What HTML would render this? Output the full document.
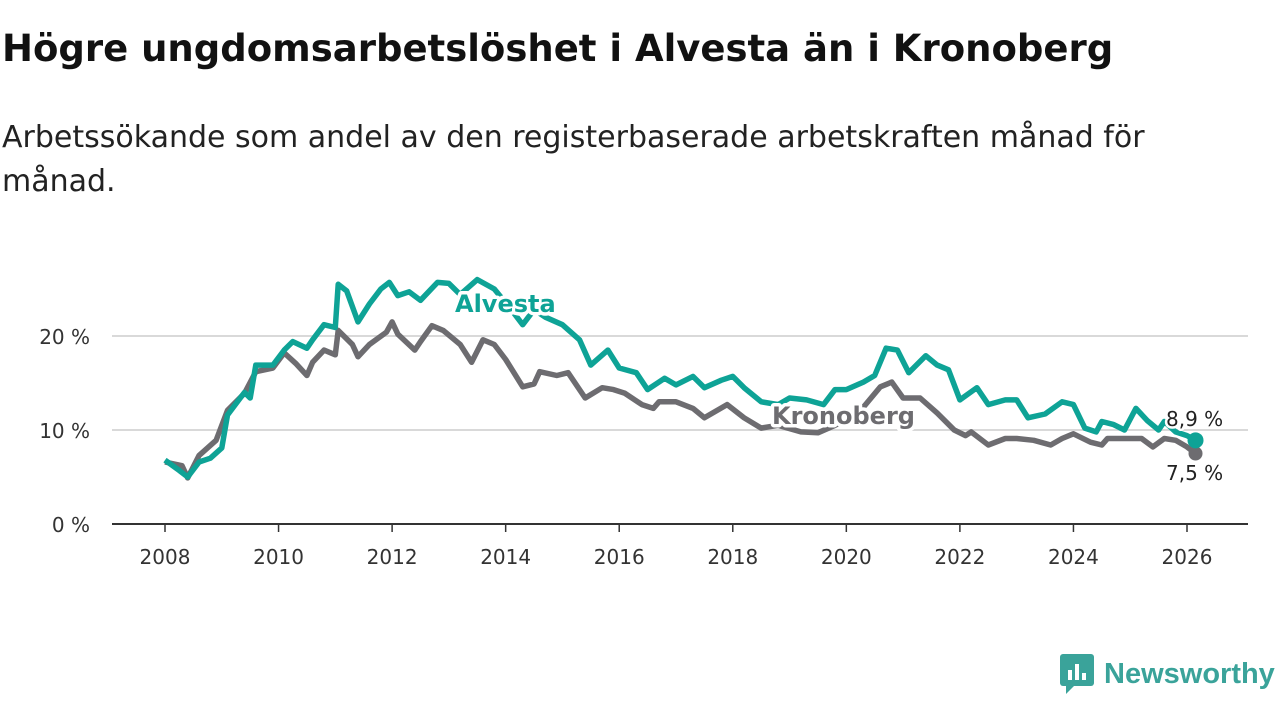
<!DOCTYPE html>
<html><head><meta charset="utf-8"><style>
body{margin:0;width:1280px;height:720px;background:#fff;font-family:"DejaVu Sans",sans-serif;overflow:hidden;position:relative}
h1{position:absolute;left:2px;top:27px;margin:0;font-size:37px;font-weight:bold;color:#111;letter-spacing:0px;white-space:nowrap}
p.sub{position:absolute;left:2px;top:116px;margin:0;font-size:30px;line-height:44px;color:#222;width:1180px;letter-spacing:0px}
svg{position:absolute;left:0;top:0}
.logo{position:absolute;left:1060px;top:654px;display:flex;align-items:center;color:#3aa39a;font-size:29px;font-weight:bold;font-family:"Liberation Sans",sans-serif}
</style></head><body>
<h1>Högre ungdomsarbetslöshet i Alvesta än i Kronoberg</h1>
<p class="sub">Arbetssökande som andel av den registerbaserade arbetskraften månad för månad.</p>
<svg id="chart" width="1280" height="720"></svg>
<div class="logo">
<svg width="36" height="40" style="position:static;margin-right:8px"><rect x="0" y="0" width="34" height="32" rx="3" fill="#3aa39a"/><polygon points="6,32 14,32 6,40" fill="#3aa39a"/><rect x="8" y="16" width="4" height="10" fill="#fff"/><rect x="15" y="10" width="4" height="16" fill="#fff"/><rect x="22" y="19" width="4" height="7" fill="#fff"/></svg>Newsworthy</div>
<script>
const alvT=[2008.0,2008.25,2008.4,2008.6,2008.8,2009.0,2009.1,2009.4,2009.5,2009.6,2009.9,2010.1,2010.25,2010.5,2010.6,2010.8,2011.0,2011.05,2011.2,2011.4,2011.6,2011.8,2011.95,2012.1,2012.3,2012.5,2012.8,2013.0,2013.2,2013.5,2013.8,2014.1,2014.3,2014.5,2014.7,2015.0,2015.3,2015.5,2015.8,2016.0,2016.3,2016.5,2016.8,2017.0,2017.3,2017.5,2017.8,2018.0,2018.2,2018.5,2018.8,2019.0,2019.3,2019.6,2019.8,2020.0,2020.3,2020.5,2020.7,2020.9,2021.1,2021.4,2021.6,2021.8,2022.0,2022.3,2022.5,2022.8,2023.0,2023.2,2023.5,2023.8,2024.0,2024.2,2024.4,2024.5,2024.7,2024.9,2025.1,2025.3,2025.5,2025.6,2025.8,2026.0,2026.15];
const alvV=[6.8,5.7,5.0,6.6,7.0,8.1,11.6,14.0,13.4,16.9,16.9,18.5,19.4,18.7,19.6,21.2,20.9,25.5,24.8,21.5,23.4,25.0,25.7,24.3,24.7,23.8,25.7,25.6,24.4,26.0,25.0,22.8,21.2,22.8,22.0,21.2,19.6,16.9,18.5,16.6,16.1,14.3,15.5,14.8,15.7,14.5,15.3,15.7,14.5,13.0,12.7,13.4,13.2,12.7,14.3,14.3,15.1,15.8,18.7,18.5,16.1,17.9,16.9,16.4,13.2,14.5,12.7,13.2,13.2,11.3,11.7,13.0,12.7,10.2,9.8,10.9,10.6,10.0,12.3,11.0,10.0,10.9,9.8,9.4,8.9];
const kroT=[2008.0,2008.3,2008.4,2008.6,2008.9,2009.1,2009.4,2009.6,2009.9,2010.1,2010.3,2010.5,2010.6,2010.8,2011.0,2011.05,2011.3,2011.4,2011.6,2011.9,2012.0,2012.1,2012.4,2012.5,2012.7,2012.9,2013.2,2013.4,2013.6,2013.8,2014.0,2014.3,2014.5,2014.6,2014.9,2015.1,2015.4,2015.7,2015.9,2016.1,2016.4,2016.6,2016.7,2017.0,2017.3,2017.5,2017.9,2018.2,2018.5,2018.8,2019.2,2019.5,2019.8,2020.2,2020.6,2020.8,2021.0,2021.3,2021.6,2021.9,2022.1,2022.2,2022.5,2022.8,2023.0,2023.3,2023.6,2023.8,2024.0,2024.3,2024.5,2024.6,2024.9,2025.2,2025.4,2025.6,2025.8,2026.0,2026.15];
const kroV=[6.6,6.2,4.9,7.3,8.9,12.1,13.9,16.2,16.6,18.2,17.1,15.8,17.2,18.5,18.0,20.6,19.1,17.8,19.1,20.4,21.5,20.2,18.5,19.4,21.1,20.6,19.1,17.2,19.6,19.1,17.5,14.6,14.9,16.2,15.8,16.1,13.4,14.5,14.3,13.9,12.7,12.3,13.0,13.0,12.3,11.3,12.7,11.3,10.2,10.5,9.8,9.7,10.5,11.7,14.6,15.1,13.4,13.4,11.8,10.0,9.4,9.8,8.4,9.1,9.1,8.9,8.4,9.1,9.6,8.7,8.4,9.1,9.1,9.1,8.2,9.1,8.9,8.2,7.5];
const yTicks=[0,10,20];
const yTickLabels=["0 %","10 %","20 %"];
const xTicks=[2008,2010,2012,2014,2016,2018,2020,2022,2024,2026];
const xS=t=>165+(t-2008)*(1187-165)/18;
const yS=v=>524-v*9.4;
const svg=document.getElementById('chart');
const NS='http://www.w3.org/2000/svg';
const FF='DejaVu Sans, sans-serif';
function mk(tag,attrs){const e=document.createElementNS(NS,tag);for(const k in attrs)e.setAttribute(k,attrs[k]);svg.appendChild(e);return e;}
yTicks.forEach((v,i)=>{
 if(v>0){const g=mk('line',{x1:112,x2:1248,y1:yS(v),y2:yS(v),stroke:'#d9d9d9','stroke-width':2});
 
 }
 const t=mk('text',{x:90,y:yS(v)+8,'text-anchor':'end','font-size':20,fill:'#333','font-family':FF});
 t.textContent=yTickLabels[i];
 
 
});
xTicks.forEach(y=>{
 const l=mk('line',{x1:xS(y),x2:xS(y),y1:524,y2:532,stroke:'#333','stroke-width':1.5});
 
 
 const t=mk('text',{x:xS(y),y:564,'text-anchor':'middle','font-size':20,fill:'#333','font-family':FF});
 t.textContent=y;
 
 
});
const ax=mk('line',{x1:112,x2:1248,y1:524,y2:524,stroke:'#333','stroke-width':2});


function pts(T,V){return T.map((t,i)=>xS(t).toFixed(1)+','+yS(V[i]).toFixed(1)).join(' ');}
const kl=mk('polyline',{points:pts(kroT,kroV),fill:'none',stroke:'#6d6c70','stroke-width':5.5,'stroke-linejoin':'round'});


const al=mk('polyline',{points:pts(alvT,alvV),fill:'none',stroke:'#0ea396','stroke-width':5.5,'stroke-linejoin':'round'});


const n=kroT.length-1,m=alvT.length-1;
const kd=mk('circle',{cx:xS(kroT[n]),cy:yS(kroV[n]),r:7,fill:'#6d6c70'});


const ad=mk('circle',{cx:xS(alvT[m]),cy:yS(alvV[m]),r:8,fill:'#0ea396'});


function lab(txt,x,y,col,name,size,bold){
 const t=mk('text',{x:x,y:y,'font-size':size,'font-weight':bold?'bold':'normal',fill:col,stroke:'#fff','stroke-width':bold?7:5,'paint-order':'stroke','stroke-linejoin':'round','font-family':FF});
 t.textContent=txt;
 
 
}
lab('Alvesta',455,312,'#0ea396','alvesta-label',24,true);
lab('Kronoberg',772,424,'#6d6c70','kronoberg-label',24,true);
lab('8,9 %',1166,426,'#222','alvesta-end-value',20,false);
lab('7,5 %',1166,480,'#222','kronoberg-end-value',20,false);
</script>
</body></html>
